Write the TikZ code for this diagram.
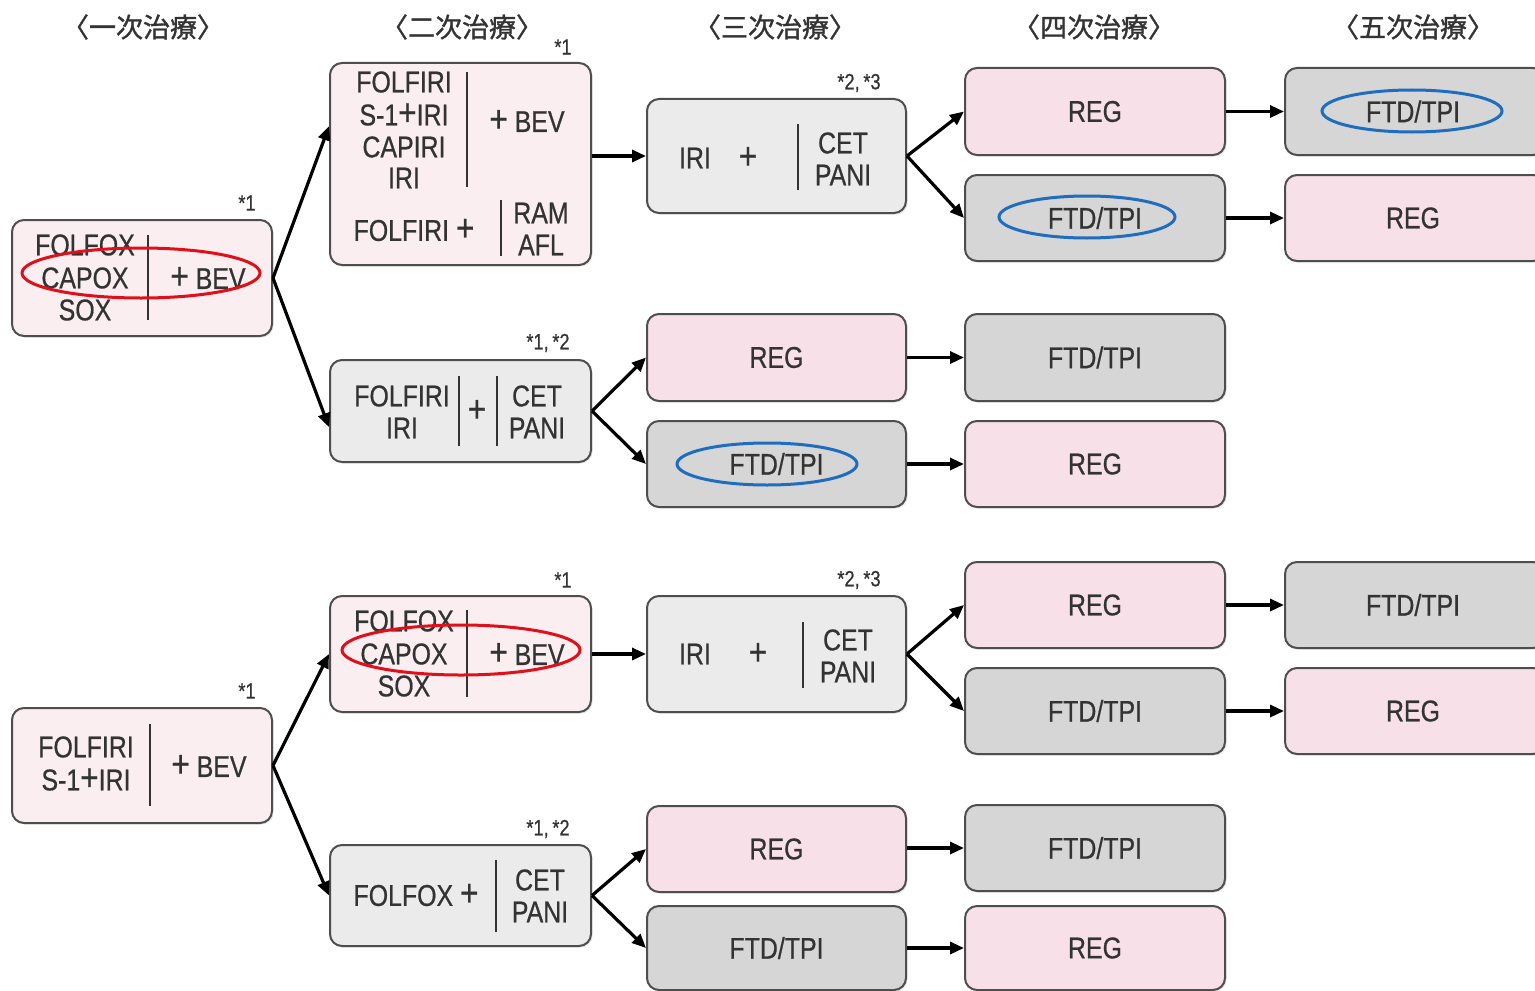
\documentclass[tikz,border=0pt]{standalone}
\usepackage{fontspec}
\setmainfont{Liberation Sans}[FakeStretch=0.83,FakeBold=0.6]
\newfontfamily\cjk{Noto Sans CJK JP}[FakeBold=1.2]
\usetikzlibrary{arrows.meta,shadows}
\definecolor{lpink}{HTML}{FAEEF1}
\definecolor{rpink}{HTML}{F7E0E7}
\definecolor{lgray}{HTML}{EBEBEB}
\definecolor{fgray}{HTML}{D6D6D6}
\definecolor{bordc}{HTML}{4E4E4E}
\definecolor{txtc}{HTML}{333333}
\definecolor{redc}{HTML}{E0101A}
\definecolor{bluec}{HTML}{1F6DBE}
\newcommand{\bigplus}{{\fontsize{19}{18}\selectfont +}}
\newcommand{\inplus}{\smash{\bigplus}}
\begin{document}
\begin{tikzpicture}[x=0.5pt,y=-0.5pt,
  box/.style={draw=bordc,line width=1pt,rounded corners=6pt,inner sep=0pt,
    drop shadow={opacity=0.18,shadow xshift=0.8pt,shadow yshift=-0.8pt}},
  t/.style={font=\fontsize{15}{18}\selectfont,text=txtc,inner sep=0pt},
  note/.style={font=\fontsize{11}{12}\selectfont,text=txtc,inner sep=0pt},
  head/.style={font=\cjk\fontsize{13.5}{16}\selectfont,text=txtc,inner sep=0pt},
  vline/.style={line width=1pt,draw=txtc},
  arr/.style={-{Triangle[length=7pt,width=6pt]},line width=1.6pt,black},
  redell/.style={draw=redc,line width=1.5pt},
  blueell/.style={draw=bluec,line width=1.5pt}]
\useasboundingbox (0,0) rectangle (1535,990);
\begin{scope}
\clip (0,0) rectangle (1535,990);
% headers
\node[head] (h1) at (143,27) {〈一次治療〉};
\node[head] (h2) at (462,27) {〈二次治療〉};
\node[head] (h3) at (775,27) {〈三次治療〉};
\node[head] (h4) at (1094,27) {〈四次治療〉};
\node[head] (h5) at (1413,27) {〈五次治療〉};
% boxes top half
\node[box,fill=lpink,minimum width=130pt,minimum height=58pt] (A1) at (142,278) {};
\node[box,fill=lpink,minimum width=130.5pt,minimum height=101pt] (B1) at (460.5,164) {};
\node[box,fill=lgray,minimum width=130.5pt,minimum height=51pt] (B2) at (460.5,411) {};
\node[box,fill=lgray,minimum width=129.5pt,minimum height=57pt] (C1) at (776.5,156) {};
\node[box,fill=rpink,minimum width=130pt,minimum height=43.5pt] (D1) at (1095,111.5) {};
\node[box,fill=fgray,minimum width=130pt,minimum height=43pt] (D2) at (1095,218) {};
\node[box,fill=fgray,minimum width=130pt,minimum height=43.5pt] (E1) at (1415,111.5) {};
\node[box,fill=rpink,minimum width=130pt,minimum height=43pt] (E2) at (1415,218) {};
\node[box,fill=rpink,minimum width=129.5pt,minimum height=43.5pt] (C2) at (776.5,357.5) {};
\node[box,fill=fgray,minimum width=129.5pt,minimum height=43pt] (C3) at (776.5,464) {};
\node[box,fill=fgray,minimum width=130pt,minimum height=43.5pt] (D3) at (1095,357.5) {};
\node[box,fill=rpink,minimum width=130pt,minimum height=43pt] (D4) at (1095,464) {};
% boxes bottom half
\node[box,fill=lpink,minimum width=130pt,minimum height=57.5pt] (A2) at (142,765.5) {};
\node[box,fill=lpink,minimum width=130.5pt,minimum height=58pt] (B3) at (460.5,654) {};
\node[box,fill=lgray,minimum width=130.5pt,minimum height=50.5pt] (B4) at (460.5,895.5) {};
\node[box,fill=lgray,minimum width=129.5pt,minimum height=58pt] (C4) at (776.5,654) {};
\node[box,fill=rpink,minimum width=130pt,minimum height=43pt] (D5) at (1095,605) {};
\node[box,fill=fgray,minimum width=130pt,minimum height=43pt] (D6) at (1095,711) {};
\node[box,fill=fgray,minimum width=130pt,minimum height=43pt] (E3) at (1415,605) {};
\node[box,fill=rpink,minimum width=130pt,minimum height=43pt] (E4) at (1415,711) {};
\node[box,fill=rpink,minimum width=129.5pt,minimum height=43pt] (C5) at (776.5,849) {};
\node[box,fill=fgray,minimum width=129.5pt,minimum height=42pt] (C6) at (776.5,948) {};
\node[box,fill=fgray,minimum width=130pt,minimum height=43pt] (D7) at (1095,848) {};
\node[box,fill=rpink,minimum width=130pt,minimum height=42pt] (D8) at (1095,948) {};
% notes
\node[note] (n1) at (247,203) {*1};
\node[note] (n2) at (563,47) {*1};
\node[note] (n3) at (548,343) {*1,\,*2};
\node[note] (n4) at (859,83) {*2,\,*3};
\node[note] (n5) at (247,691) {*1};
\node[note] (n6) at (563,580) {*1};
\node[note] (n7) at (548,829) {*1,\,*2};
\node[note] (n8) at (859,580) {*2,\,*3};
% A1 content
\node[t] (a1a) at (85,245) {FOLFOX};
\node[t] (a1b) at (85,278) {CAPOX};
\node[t] (a1c) at (85,310) {SOX};
\node[t] (a1d) at (208,278) {\bigplus\ BEV};
\draw[vline] (148,235) -- (148,320);
% B1 content
\node[t] (b1a) at (404,82) {FOLFIRI};
\node[t] (b1b) at (404,115) {S-1\inplus IRI};
\node[t] (b1c) at (404,147) {CAPIRI};
\node[t] (b1d) at (404,178) {IRI};
\node[t] (b1e) at (527,121) {\bigplus\ BEV};
\draw[vline] (467,72) -- (467,187);
\node[t] (b1f) at (414,230) {FOLFIRI \bigplus};
\draw[vline] (501,200) -- (501,256);
\node[t] (b1g) at (541,213) {RAM};
\node[t] (b1h) at (541,245) {AFL};
% B2 content
\node[t] (b2a) at (402,396) {FOLFIRI};
\node[t] (b2b) at (402,428) {IRI};
\draw[vline] (459,376) -- (459,446);
\node[t] (b2c) at (477,411) {\bigplus};
\draw[vline] (497,376) -- (497,446);
\node[t] (b2d) at (537,396) {CET};
\node[t] (b2e) at (537,428) {PANI};
% C1 content
\node[t] (c1a) at (695,158) {IRI};
\node[t] (c1b) at (748,158) {\bigplus};
\draw[vline] (798,124) -- (798,190);
\node[t] (c1c) at (843,143) {CET};
\node[t] (c1d) at (843,175) {PANI};
% simple boxes top
\node[t] (d1t) at (D1) {REG};
\node[t] (d2t) at (D2) {FTD/TPI};
\node[t] (e1t) at (1413,111.5) {FTD/TPI};
\node[t] (e2t) at (1413,218) {REG};
\node[t] (c2t) at (C2) {REG};
\node[t] (c3t) at (C3) {FTD/TPI};
\node[t] (d3t) at (D3) {FTD/TPI};
\node[t] (d4t) at (D4) {REG};
% A2 content
\node[t] (a2a) at (86,747) {FOLFIRI};
\node[t] (a2b) at (86,780) {S-1\inplus IRI};
\draw[vline] (150,724) -- (150,806);
\node[t] (a2c) at (209,766) {\bigplus\ BEV};
% B3 content
\node[t] (b3a) at (404,621) {FOLFOX};
\node[t] (b3b) at (404,654) {CAPOX};
\node[t] (b3c) at (404,686) {SOX};
\draw[vline] (467,610) -- (467,697);
\node[t] (b3d) at (527,654) {\bigplus\ BEV};
% B4 content
\node[t] (b4a) at (416,895) {FOLFOX \bigplus};
\draw[vline] (496,860) -- (496,932);
\node[t] (b4b) at (540,880) {CET};
\node[t] (b4c) at (540,912) {PANI};
% C4 content
\node[t] (c4a) at (695,654) {IRI};
\node[t] (c4b) at (758,654) {\bigplus};
\draw[vline] (803,622) -- (803,688);
\node[t] (c4c) at (848,640) {CET};
\node[t] (c4d) at (848,672) {PANI};
% simple boxes bottom
\node[t] (d5t) at (D5) {REG};
\node[t] (d6t) at (D6) {FTD/TPI};
\node[t] (e3t) at (1413,605) {FTD/TPI};
\node[t] (e4t) at (1413,711) {REG};
\node[t] (c5t) at (C5) {REG};
\node[t] (c6t) at (C6) {FTD/TPI};
\node[t] (d7t) at (D7) {FTD/TPI};
\node[t] (d8t) at (D8) {REG};
% arrows top
\draw[arr] (A1.east) -- (B1.164);
\draw[arr] (A1.east) -- (B2.187);
\draw[arr] (B1.east |- C1.west) -- (C1.west);
\draw[arr] (C1.east) -- (D1.west);
\draw[arr] (C1.east) -- (D2.west);
\draw[arr] (D1.east) -- (E1.west);
\draw[arr] (D2.east) -- (E2.west);
\draw[arr] (B2.east) -- (C2.west);
\draw[arr] (B2.east) -- (C3.west);
\draw[arr] (C2.east) -- (D3.west);
\draw[arr] (C3.east) -- (D4.west);
% arrows bottom
\draw[arr] (A2.east) -- (B3.west);
\draw[arr] (A2.east) -- (B4.west);
\draw[arr] (B3.east) -- (C4.west);
\draw[arr] (C4.east) -- (D5.west);
\draw[arr] (C4.east) -- (D6.west);
\draw[arr] (D5.east) -- (E3.west);
\draw[arr] (D6.east) -- (E4.west);
\draw[arr] (B4.east) -- (C5.west);
\draw[arr] (B4.east) -- (C6.west);
\draw[arr] (C5.east |- D7.west) -- (D7.west);
\draw[arr] (C6.east) -- (D8.west);
% highlight ellipses
\draw[redell] (141,273) ellipse [x radius=119, y radius=25];
\draw[redell] (461,650) ellipse [x radius=119, y radius=25];
\draw[blueell] (1087,217) ellipse [x radius=88, y radius=21];
\draw[blueell] (1412,111) ellipse [x radius=90, y radius=21];
\draw[blueell] (767,464) ellipse [x radius=90, y radius=21];
\end{scope}
\end{tikzpicture}
\end{document}
